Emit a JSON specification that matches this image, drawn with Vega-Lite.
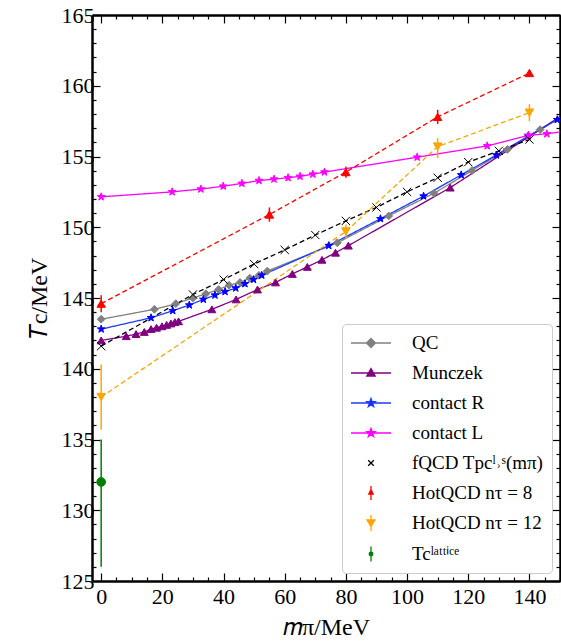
{
  "$schema": "https://vega.github.io/schema/vega-lite/v6.json",
  "width": 468,
  "height": 566,
  "autosize": "none",
  "padding": {"left": 92, "top": 15, "right": 1, "bottom": 61},
  "background": "white",
  "config": {
    "font": "Liberation Serif",
    "view": {"stroke": null},
    "axis": {
      "domainColor": "black", "domainWidth": 2.5, "tickColor": "black", "tickWidth": 1.2,
      "labelFont": "Liberation Serif", "labelFontSize": 22, "labelColor": "black",
      "titleFont": "Liberation Serif", "titleFontSize": 24, "titleColor": "black", "titleFontWeight": "normal",
      "grid": false, "labelOverlap": false, "labelFlush": false
    }
  },
  "data": {"values": [
    {"s":"QC","m":0,"T":143.5},{"s":"QC","m":17.4,"T":144.2},{"s":"QC","m":24.4,"T":144.6},{"s":"QC","m":30,"T":145.0},{"s":"QC","m":34.2,"T":145.3},{"s":"QC","m":38.4,"T":145.6},{"s":"QC","m":41.8,"T":145.9},{"s":"QC","m":45.4,"T":146.1},{"s":"QC","m":48.6,"T":146.4},{"s":"QC","m":51.6,"T":146.6},{"s":"QC","m":54.3,"T":146.9},{"s":"QC","m":77.2,"T":148.9},{"s":"QC","m":94,"T":150.8},{"s":"QC","m":108.8,"T":152.4},{"s":"QC","m":121.2,"T":154.0},{"s":"QC","m":132.8,"T":155.5},{"s":"QC","m":143.5,"T":156.9},{"s":"QC","m":153,"T":158.1},
    {"s":"Munczek","m":0,"T":142.0},{"s":"Munczek","m":8.2,"T":142.3},{"s":"Munczek","m":11.4,"T":142.45},{"s":"Munczek","m":14.1,"T":142.6},{"s":"Munczek","m":16.3,"T":142.8},{"s":"Munczek","m":18.1,"T":142.9},{"s":"Munczek","m":19.9,"T":143.0},{"s":"Munczek","m":21.4,"T":143.1},{"s":"Munczek","m":22.8,"T":143.2},{"s":"Munczek","m":24.1,"T":143.3},{"s":"Munczek","m":25.3,"T":143.35},{"s":"Munczek","m":36.2,"T":144.2},{"s":"Munczek","m":44.1,"T":144.9},{"s":"Munczek","m":51.1,"T":145.6},{"s":"Munczek","m":57,"T":146.1},{"s":"Munczek","m":62.5,"T":146.7},{"s":"Munczek","m":67.4,"T":147.2},{"s":"Munczek","m":72.2,"T":147.7},{"s":"Munczek","m":76.6,"T":148.2},{"s":"Munczek","m":80.8,"T":148.7},{"s":"Munczek","m":114.1,"T":152.8},{"s":"Munczek","m":152,"T":158.1},
    {"s":"contactR","m":0,"T":142.8},{"s":"contactR","m":16.3,"T":143.6},{"s":"contactR","m":23.4,"T":144.1},{"s":"contactR","m":28.8,"T":144.5},{"s":"contactR","m":33.4,"T":144.9},{"s":"contactR","m":37.2,"T":145.2},{"s":"contactR","m":40.5,"T":145.45},{"s":"contactR","m":44,"T":145.7},{"s":"contactR","m":47,"T":146.0},{"s":"contactR","m":49.8,"T":146.3},{"s":"contactR","m":52.5,"T":146.6},{"s":"contactR","m":74.4,"T":148.7},{"s":"contactR","m":91.3,"T":150.6},{"s":"contactR","m":105.4,"T":152.2},{"s":"contactR","m":117.7,"T":153.7},{"s":"contactR","m":129.2,"T":155.1},{"s":"contactR","m":139.6,"T":156.45},{"s":"contactR","m":149.1,"T":157.6},
    {"s":"contactL","m":0,"T":152.15},{"s":"contactL","m":23.2,"T":152.5},{"s":"contactL","m":32.6,"T":152.7},{"s":"contactL","m":39.9,"T":152.9},{"s":"contactL","m":46,"T":153.1},{"s":"contactL","m":51.6,"T":153.3},{"s":"contactL","m":56.5,"T":153.4},{"s":"contactL","m":61.1,"T":153.5},{"s":"contactL","m":65,"T":153.6},{"s":"contactL","m":69.2,"T":153.75},{"s":"contactL","m":73,"T":153.9},{"s":"contactL","m":103.3,"T":154.95},{"s":"contactL","m":126.2,"T":155.75},{"s":"contactL","m":139.7,"T":156.5},{"s":"contactL","m":145.7,"T":156.6},{"s":"contactL","m":155,"T":156.9},
    {"s":"fQCD","m":0,"T":141.6},{"s":"fQCD","m":30,"T":145.25},{"s":"fQCD","m":40,"T":146.3},{"s":"fQCD","m":50,"T":147.4},{"s":"fQCD","m":60,"T":148.4},{"s":"fQCD","m":70,"T":149.45},{"s":"fQCD","m":80,"T":150.45},{"s":"fQCD","m":90,"T":151.4},{"s":"fQCD","m":100,"T":152.5},{"s":"fQCD","m":110,"T":153.5},{"s":"fQCD","m":120,"T":154.6},{"s":"fQCD","m":130,"T":155.4},{"s":"fQCD","m":140,"T":156.2},
    {"s":"Hot8","m":0,"T":144.6,"lo":144.0,"hi":145.2},{"s":"Hot8","m":55,"T":150.9,"lo":150.4,"hi":151.4},{"s":"Hot8","m":80,"T":153.9,"lo":153.5,"hi":154.3},{"s":"Hot8","m":110,"T":157.8,"lo":157.3,"hi":158.3},{"s":"Hot8","m":140,"T":160.9,"lo":160.7,"hi":161.1},
    {"s":"Hot12","m":0,"T":138.0,"lo":135.7,"hi":140.3},{"s":"Hot12","m":80,"T":149.7,"lo":149.2,"hi":150.2},{"s":"Hot12","m":110,"T":155.7,"lo":154.9,"hi":156.3},{"s":"Hot12","m":140,"T":158.1,"lo":157.5,"hi":158.7},
    {"s":"lattice","m":0,"T":132.0,"lo":126.0,"hi":135.0}
  ]},
  "resolve": {
    "scale": {"color": "independent", "fill": "independent", "stroke": "independent", "shape": "independent", "size": "independent", "strokeDash": "independent"},
    "axis": {"x": "independent", "y": "independent"}
  },
  "layer": [
    {
      "transform": [{"filter": "datum.s !== 'lattice'"}],
      "mark": {"type": "line", "clip": true, "strokeWidth": 1.3},
      "encoding": {
        "x": {"field": "m", "type": "quantitative", "scale": {"domain": [-3, 150], "nice": false, "zero": false}, "axis": null},
        "y": {"field": "T", "type": "quantitative", "scale": {"domain": [125, 165], "nice": false, "zero": false}, "axis": null},
        "detail": {"field": "s"},
        "color": {"field": "s", "type": "nominal", "legend": null,
          "scale": {"domain": ["QC","Munczek","contactR","contactL","fQCD","Hot8","Hot12"], "range": ["#808080","#800080","#1a3cff","#ff00ff","#000000","#ff0000","#ffa500"]}},
        "strokeDash": {"field": "s", "type": "nominal", "legend": null,
          "scale": {"domain": ["QC","Munczek","contactR","contactL","fQCD","Hot8","Hot12"], "range": [[1,0],[1,0],[1,0],[1,0],[5,3],[5,3],[5,3]]}}
      }
    },
    {
      "transform": [{"filter": "isValid(datum.lo)"}],
      "mark": {"type": "rule", "strokeWidth": 1.5},
      "encoding": {
        "x": {"field": "m", "type": "quantitative", "scale": {"domain": [-3, 150], "nice": false, "zero": false},
          "axis": {"orient": "bottom", "title": "𝑚π/MeV", "titlePadding": 4,
            "values": [0,5,10,15,20,25,30,35,40,45,50,55,60,65,70,75,80,85,90,95,100,105,110,115,120,125,130,135,140,145,150],
            "labelExpr": "datum.value % 20 === 0 ? datum.label : ''",
            "tickSize": {"condition": {"test": "datum.value % 20 === 0", "value": -8}, "value": -4},
            "labelPadding": 13}},
        "y": {"field": "lo", "type": "quantitative", "scale": {"domain": [125, 165], "nice": false, "zero": false},
          "axis": {"orient": "left", "title": "𝑇c/MeV", "titlePadding": 10,
            "values": [125,126,127,128,129,130,131,132,133,134,135,136,137,138,139,140,141,142,143,144,145,146,147,148,149,150,151,152,153,154,155,156,157,158,159,160,161,162,163,164,165],
            "labelExpr": "datum.value % 5 === 0 ? datum.label : ''",
            "tickSize": {"condition": {"test": "datum.value % 5 === 0", "value": -8}, "value": -4},
            "labelPadding": 6}},
        "y2": {"field": "hi"},
        "color": {"field": "s", "type": "nominal", "legend": null,
          "scale": {"domain": ["Hot8","Hot12","lattice"], "range": ["#ff0000","#ffa500","#008000"]}}
      }
    },
    {
      "mark": {"type": "point", "filled": true, "clip": true, "strokeWidth": 1, "opacity": 1},
      "encoding": {
        "x": {"field": "m", "type": "quantitative", "scale": {"domain": [-3, 150], "nice": false, "zero": false},
          "axis": {"orient": "top", "title": null, "labels": false,
            "values": [0,5,10,15,20,25,30,35,40,45,50,55,60,65,70,75,80,85,90,95,100,105,110,115,120,125,130,135,140,145,150],
            "tickSize": {"condition": {"test": "datum.value % 20 === 0", "value": -8}, "value": -4}}},
        "y": {"field": "T", "type": "quantitative", "scale": {"domain": [125, 165], "nice": false, "zero": false},
          "axis": {"orient": "right", "title": null, "labels": false,
            "values": [125,126,127,128,129,130,131,132,133,134,135,136,137,138,139,140,141,142,143,144,145,146,147,148,149,150,151,152,153,154,155,156,157,158,159,160,161,162,163,164,165],
            "tickSize": {"condition": {"test": "datum.value % 5 === 0", "value": -8}, "value": -4}}},
        "fill": {"field": "s", "type": "nominal", "legend": null,
          "scale": {"domain": ["QC","Munczek","contactR","contactL","fQCD","Hot8","Hot12","lattice"], "range": ["#808080","#800080","#0000ff","#ff00ff","#000000","#ff0000","#ffa500","#008000"]}},
        "stroke": {"field": "s", "type": "nominal", "legend": null,
          "scale": {"domain": ["QC","Munczek","contactR","contactL","fQCD","Hot8","Hot12","lattice"], "range": ["#808080","#800080","#0000ff","#ff00ff","#000000","#ff0000","#ffa500","#008000"]}},
        "shape": {"field": "s", "type": "nominal", "legend": null,
          "scale": {"domain": ["QC","Munczek","contactR","contactL","fQCD","Hot8","Hot12","lattice"],
            "range": ["diamond","triangle-up",
              "M0,-1L0.235,-0.324L0.951,-0.309L0.38,0.124L0.588,0.809L0,0.4L-0.588,0.809L-0.38,0.124L-0.951,-0.309L-0.235,-0.324Z",
              "M0,-1L0.235,-0.324L0.951,-0.309L0.38,0.124L0.588,0.809L0,0.4L-0.588,0.809L-0.38,0.124L-0.951,-0.309L-0.235,-0.324Z",
              "M-1,-1L1,1M-1,1L1,-1","triangle-up","triangle-down","circle"]}},
        "size": {"field": "s", "type": "ordinal", "legend": null,
          "scale": {"domain": ["QC","Munczek","contactR","contactL","fQCD","Hot8","Hot12","lattice"], "range": [60,75,95,95,45,32,90,12]}}
      }
    },
    {
      "transform": [{"filter": "false"}],
      "mark": {"type": "point", "filled": true, "opacity": 1},
      "encoding": {
        "x": {"field": "m", "type": "quantitative", "scale": {"domain": [-3, 150], "nice": false, "zero": false}, "axis": null},
        "y": {"field": "T", "type": "quantitative", "scale": {"domain": [125, 165], "nice": false, "zero": false}, "axis": null},
        "fill": {"field": "s", "type": "nominal",
          "scale": {"domain": ["QC","Munczek","contactR","contactL","fQCD","Hot8","Hot12","lattice"], "range": ["#808080","#800080","#0000ff","#ff00ff","#000000","#ff0000","#ffa500","#008000"]},
          "legend": {"title": null, "orient": "bottom-right", "offset": 8, "padding": 8, "cornerRadius": 4,
            "strokeColor": "#cccccc", "fillColor": "white", "symbolOpacity": 1, "symbolSize": 400, "symbolStrokeWidth": 1.3,
            "symbolOffset": 10, "labelOffset": 30, "rowPadding": 9, "labelFont": "Liberation Serif", "labelFontSize": 19, "labelColor": "black",
            "labelExpr": "{'QC':'QC','Munczek':'Munczek','contactR':'contact R','contactL':'contact L','fQCD':'fQCD Tpcˡ˒ˢ(mπ)','Hot8':'HotQCD nτ = 8','Hot12':'HotQCD nτ = 12','lattice':'Tcˡᵃᵗᵗⁱᶜᵉ'}[datum.value]"}},
        "stroke": {"field": "s", "type": "nominal",
          "scale": {"domain": ["QC","Munczek","contactR","contactL","fQCD","Hot8","Hot12","lattice"], "range": ["#808080","#800080","#1a3cff","#ff00ff","#000000","#ff0000","#ffa500","#008000"]},
          "legend": {"title": null}},
        "shape": {"field": "s", "type": "nominal",
          "scale": {"domain": ["QC","Munczek","contactR","contactL","fQCD","Hot8","Hot12","lattice"],
            "range": [
              "M-2,0H2M0,-0.45L0.45,0L0,0.45L-0.45,0Z",
              "M-2,0H2M0,-0.45L0.42,0.3L-0.42,0.3Z",
              "M-2,0H2M0,-0.45L0.106,-0.146L0.428,-0.139L0.171,0.056L0.265,0.364L0,0.18L-0.265,0.364L-0.171,0.056L-0.428,-0.139L-0.106,-0.146Z",
              "M-2,0H2M0,-0.45L0.106,-0.146L0.428,-0.139L0.171,0.056L0.265,0.364L0,0.18L-0.265,0.364L-0.171,0.056L-0.428,-0.139L-0.106,-0.146Z",
              "M-0.28,-0.28L0.28,0.28M-0.28,0.28L0.28,-0.28",
              "M0,-0.7V0.7M0,-0.35L0.22,0.12L-0.22,0.12Z",
              "M0,-0.8V0.8M-0.4,-0.3L0.4,-0.3L0,0.35Z",
              "M0,-0.75V0.75M-0.18,0A0.18,0.18,0,1,1,0.18,0A0.18,0.18,0,1,1,-0.18,0Z"]},
          "legend": {"title": null}}
      }
    }
  ]
}
